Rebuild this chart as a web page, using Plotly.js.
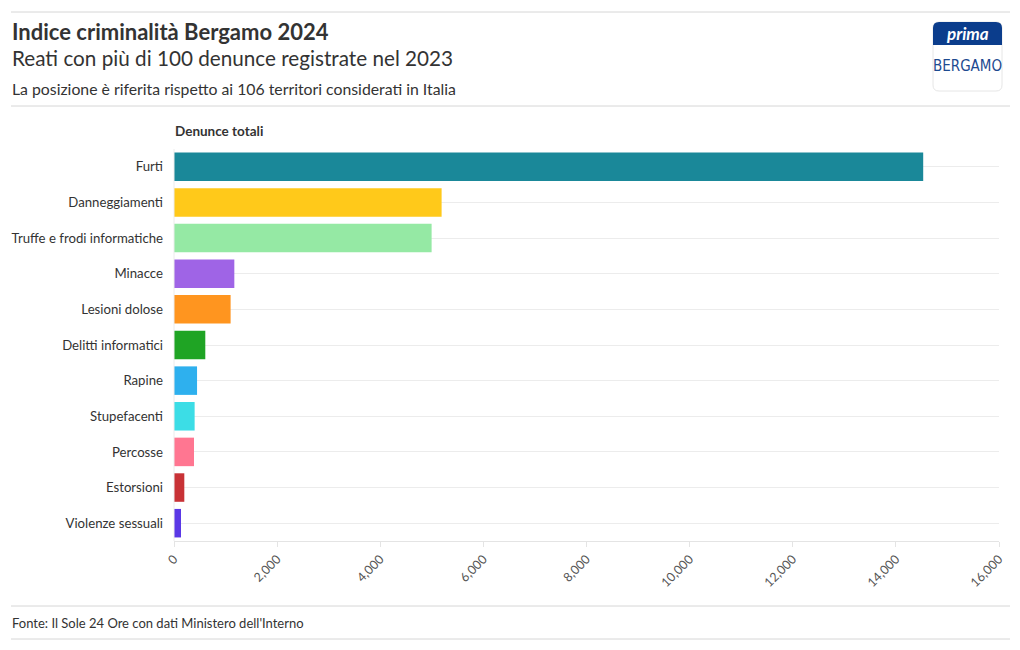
<!DOCTYPE html>
<html><head><meta charset="utf-8">
<script src="https://cdn.plot.ly/plotly-3.0.1.min.js"></script>
<style>html,body{margin:0;padding:0;background:#fff}#chart{width:1020px;height:650px}</style>
</head><body><div id="chart"></div>
<script>
const categories = ["Furti","Danneggiamenti","Truffe e frodi informatiche","Minacce","Lesioni dolose","Delitti informatici","Rapine","Stupefacenti","Percosse","Estorsioni","Violenze sessuali"];
const denunce = [14530, 5190, 4996, 1170, 1098, 607, 447, 400, 388, 200, 136];
const barColors = ["#1a8899","#ffc91a","#95e9a4","#9f64e6","#ff951f","#1fa424","#2eb0ee","#3cdde6","#ff7691","#c83236","#5a38e6"];
const xTicks = [0,2000,4000,6000,8000,10000,12000,14000,16000];

(function(){
const W=1020,H=650,L=174,R=21,T=149,B=109;
const pw=W-L-R, ph=H-T-B;
const px=x=>(x-L)/pw, py=y=>(H-B-y)/ph;
const FONT="Lato, 'Source Sans Pro', sans-serif";

const trace={type:'bar',orientation:'h',y:categories,x:denunce,
  marker:{color:barColors},hoverinfo:'none'};

function hline(y,x0,x1,c){return {type:'line',xref:'paper',yref:'paper',x0:px(x0),x1:px(x1),y0:py(y),y1:py(y),line:{color:c||'#dcdcdc',width:1},layer:'above'};}
function ann(text,x,y,size,opts){return Object.assign({text:text,xref:'paper',yref:'paper',x:px(x),y:py(y),xanchor:'left',yanchor:'middle',showarrow:false,font:{family:FONT,size:size,color:'#333'}},opts||{});}

const lx0=933,lx1=1002,ly0=22,ly1=91,r=6,lmid=45;
function P(x,y){return px(x)+','+py(y);}
const logoOuter='M'+P(lx0+r,ly0)+' L'+P(lx1-r,ly0)+' Q'+P(lx1,ly0)+' '+P(lx1,ly0+r)+' L'+P(lx1,ly1-r)+' Q'+P(lx1,ly1)+' '+P(lx1-r,ly1)+' L'+P(lx0+r,ly1)+' Q'+P(lx0,ly1)+' '+P(lx0,ly1-r)+' L'+P(lx0,ly0+r)+' Q'+P(lx0,ly0)+' '+P(lx0+r,ly0)+' Z';
const logoTop='M'+P(lx0+r,ly0)+' L'+P(lx1-r,ly0)+' Q'+P(lx1,ly0)+' '+P(lx1,ly0+r)+' L'+P(lx1,lmid)+' L'+P(lx0,lmid)+' L'+P(lx0,ly0+r)+' Q'+P(lx0,ly0)+' '+P(lx0+r,ly0)+' Z';

const layout={
  width:W,height:H,margin:{l:L,r:R,t:T,b:B},
  paper_bgcolor:'#fff',plot_bgcolor:'#fff',showlegend:false,
  font:{family:FONT,color:'#333'},
  bargap:0.2,
  xaxis:{range:[0,16000],tickvals:xTicks,tickformat:',d',tickangle:-45,
    showgrid:false,zeroline:false,showline:true,linecolor:'#e4e4e4',
    ticks:'outside',ticklen:5,tickcolor:'#e4e4e4',
    tickfont:{family:FONT,size:12.5,color:'#555'},fixedrange:true},
  yaxis:{autorange:'reversed',showgrid:true,gridcolor:'#ececec',zeroline:false,
    showline:false,ticks:'',ticklabelstandoff:10,
    tickfont:{family:FONT,size:13.2,color:'#333'},fixedrange:true},
  shapes:[
    hline(12,11,1010,'#d6d6d6'),
    hline(106,11,1010,'#d6d6d6'),
    hline(606,11,1010,'#d6d6d6'),
    hline(639,11,1010,'#d6d6d6'),
    {type:'line',xref:'paper',yref:'paper',x0:0,x1:0,y0:0,y1:1,line:{color:'#ececec',width:1}},
    {type:'path',xref:'paper',yref:'paper',path:logoOuter,fillcolor:'#ffffff',line:{color:'#e6e6e6',width:1},layer:'above'},
    {type:'path',xref:'paper',yref:'paper',path:logoTop,fillcolor:'#0b3d8c',line:{width:0},layer:'above'}
  ],
  annotations:[
    ann('<b>Indice criminalità Bergamo 2024</b>',10,32,22,{font:{family:FONT,size:22,color:'#333'}}),
    ann('Reati con più di 100 denunce registrate nel 2023',10,58,20.7,{font:{family:FONT,size:20.7,color:'#333'}}),
    ann('La posizione è riferita rispetto ai 106 territori considerati in Italia',10,89,15.8,{font:{family:FONT,size:15.8,color:'#333'}}),
    ann('<b>Denunce totali</b>',173,131,13.5,{font:{family:FONT,size:13.5,color:'#333'}}),
    ann("Fonte: Il Sole 24 Ore con dati Ministero dell'Interno",10,623,13,{font:{family:FONT,size:13,color:'#333'}}),
    ann('<b><i>prima</i></b>',967.5,33,17,{xanchor:'center',font:{family:FONT,size:17,color:'#ffffff'}}),
    ann('BERGAMO',967.5,66,15,{xanchor:'center',font:{family:"'DejaVu Sans Condensed','Liberation Sans Narrow',sans-serif",size:15,color:'#1d4a90'}})
  ]
};
Plotly.newPlot('chart',[trace],layout,{displayModeBar:false,staticPlot:true});
})();
</script></body></html>
